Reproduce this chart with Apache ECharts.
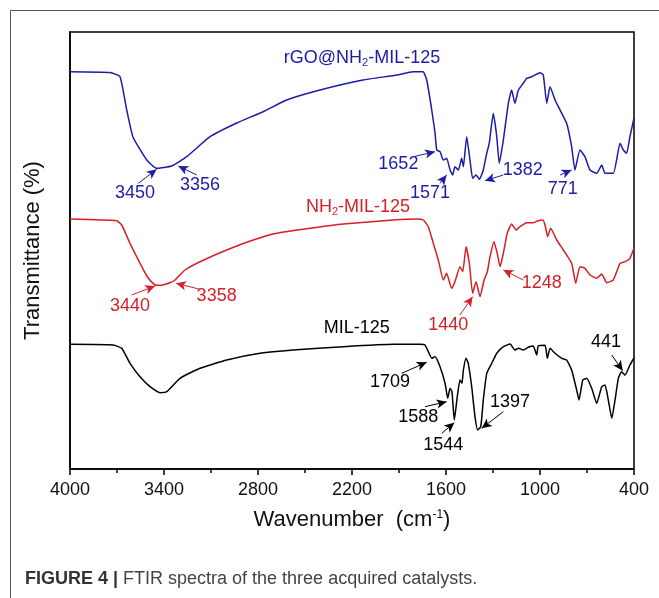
<!DOCTYPE html>
<html>
<head>
<meta charset="utf-8">
<script src="https://cdn.jsdelivr.net/npm/echarts@6/dist/echarts.min.js"></script>
<style>
  html, body { margin: 0; padding: 0; background: #fff; }
  #chart { width: 659px; height: 598px; }
</style>
</head>
<body>
<div id="chart"></div>
<script>
// FTIR spectra, offset vertically (arbitrary transmittance units): [wavenumber cm-1, T]
const rgoSpectrum = [
  [4000, 397.3], [3745, 396.5], [3681, 392.3], [3638, 359], [3598, 332], [3510, 309],
  [3447, 300.7], [3351, 303], [3255, 312.3], [3106, 332.3], [2936, 346], [2768, 357.3],
  [2617, 369], [2404, 379], [2130, 389], [1913, 394], [1811, 397.3], [1747, 397.3],
  [1723, 389], [1691, 359], [1670, 336], [1659, 319], [1638, 317.3], [1617, 309],
  [1596, 310.7], [1574, 299], [1557, 294], [1543, 302.3], [1521, 299], [1500, 310.7],
  [1489, 302.3], [1468, 332.3], [1447, 309], [1430, 290.7], [1408, 294], [1387, 289.7],
  [1362, 299], [1340, 315.7], [1324, 325.7], [1298, 355.7], [1276, 332.3], [1260, 305.7],
  [1234, 329], [1202, 365.7], [1181, 379], [1160, 365.7], [1138, 379], [1107, 385.7],
  [1085, 390.7], [1053, 392.3], [1032, 394], [1000, 396.3], [979, 394], [957, 365.7],
  [936, 382.3], [904, 369], [872, 359], [830, 345.7], [798, 322.3], [777, 299],
  [745, 319], [713, 312.3], [681, 299], [638, 295.7], [606, 304], [585, 295.7],
  [532, 295.7], [489, 325.7], [468, 319], [447, 315.7], [426, 332.3], [400, 351]
];
const nh2Spectrum = [
  [4000, 250], [3702, 248.3], [3670, 244], [3617, 225.7], [3553, 205.7], [3500, 190.7],
  [3457, 184], [3426, 183.7], [3362, 186.3], [3330, 189], [3266, 199], [3170, 207.3],
  [3000, 219], [2830, 229], [2681, 235.7], [2468, 240.7], [2255, 245], [1936, 249],
  [1787, 250], [1745, 249], [1713, 242.3], [1681, 225.7], [1649, 209], [1617, 189],
  [1596, 195.7], [1564, 180.7], [1543, 187.3], [1511, 202.3], [1493, 197.3], [1472, 222.3],
  [1451, 205.7], [1430, 175.7], [1408, 187.3], [1383, 172.3], [1357, 189], [1336, 197.3],
  [1319, 212.3], [1294, 227.3], [1273, 215.7], [1255, 202.3], [1234, 215.7], [1209, 235.7],
  [1181, 245], [1153, 239], [1128, 242.3], [1085, 246.3], [1043, 246.3], [1011, 248.3],
  [983, 249], [968, 244], [951, 232.3], [932, 240.7], [893, 229], [851, 219],
  [798, 205.7], [772, 185.7], [745, 202.3], [713, 200.7], [681, 194], [638, 190.7],
  [606, 195], [574, 186.3], [532, 189], [489, 205.7], [457, 207.3], [426, 210.7], [400, 221]
];
const milSpectrum = [
  [4000, 124.7], [3724, 124], [3670, 120.7], [3617, 105.7], [3553, 92.3], [3489, 82.3],
  [3426, 76.3], [3383, 77.3], [3298, 90.7], [3170, 100.7], [3000, 109], [2787, 115.7],
  [2575, 119], [2255, 122.3], [1936, 124.7], [1766, 124.7], [1734, 124], [1713, 117.3],
  [1691, 110.7], [1670, 112.3], [1638, 102.3], [1606, 85.7], [1589, 70.7], [1574, 80.7],
  [1562, 77.3], [1547, 49], [1528, 72.3], [1511, 89], [1498, 85.7], [1489, 99],
  [1472, 110.7], [1458, 105.7], [1436, 82.3], [1415, 52.3], [1398, 39], [1378, 42.3],
  [1362, 69], [1340, 95.7], [1308, 105.7], [1276, 115.7], [1234, 122.3], [1191, 125],
  [1160, 119], [1138, 120.7], [1107, 119], [1075, 121.7], [1043, 123], [1021, 114],
  [1011, 123], [968, 123.7], [953, 110.7], [936, 120.7], [904, 115.7], [861, 110.7],
  [830, 109], [798, 99], [766, 79], [751, 69], [727, 89], [702, 90.7],
  [670, 80.7], [638, 65.7], [606, 82.3], [585, 84], [564, 69], [542, 50.7],
  [521, 69], [500, 90.7], [479, 97.3], [457, 94], [426, 104], [400, 111]
];

// Curve names: [text, wavenumber, T]
const rgoName = ['rGO@NH{s|2}-MIL-125', 2136, 411];
const nh2Name = ['NH{s|2}-MIL-125', 2162, 262];
const milName = ['MIL-125', 2170, 140.7];

// Peak callouts: [label, textWn, textT, tailWn, tailT, tipWn, tipT]
const rgoPeaks = [
  ['3450', 3585, 275.7, 3564, 285.7, 3447, 299.7],
  ['3356', 3170, 284, 3191, 294, 3309, 303],
  ['1652', 1904, 304.7, 1809, 312.3, 1670, 317.3],
  ['1571', 1702, 276.3, 1638, 285.7, 1596, 294],
  ['1382', 1110, 299, 1234, 294, 1351, 288.3],
  ['771', 855, 279.7, 872, 294, 798, 299]
];
const nh2Peaks = [
  ['3440', 3617, 163, 3606, 174, 3457, 183],
  ['3358', 3064, 173.3, 3170, 179.7, 3323, 185.7],
  ['1440', 1585, 144, 1511, 154, 1430, 172.3],
  ['1248', 989, 185.7, 1107, 189, 1234, 199]
];
const milPeaks = [
  ['1709', 1957, 87.3, 1883, 95.7, 1723, 106.7],
  ['1588', 1777, 52.3, 1734, 62.3, 1596, 67.3],
  ['1544', 1617, 24, 1627, 35.7, 1547, 46.3],
  ['1397', 1191, 67.3, 1234, 57.3, 1372, 40.7],
  ['441', 579, 127.3, 542, 114, 472, 98.3]
];

const xTicks = { min: 400, max: 4000, interval: 600 };

const FONT = '"Liberation Sans", Arial, sans-serif';
const BLUE = '#1c1ca6';
const RED = '#d51f26';
const BLACK = '#000000';

function spectrumSeries(name, data, color) {
  return {
    name: name, type: 'line', data: data, showSymbol: false, symbol: 'none',
    smooth: 0.15, lineStyle: { color: color, width: 1.5 }, z: 3
  };
}

function calloutSeries(color, peaks, title) {
  const textData = peaks.map(p => [p[1], p[2], p[0]]);
  textData.push([title[1], title[2], title[0]]);
  return [
    {
      type: 'scatter', data: textData, symbolSize: 0, z: 5,
      itemStyle: { opacity: 1, color: color },
      label: {
        show: true, position: 'inside', color: color, fontSize: 18, fontFamily: FONT,
        formatter: p => p.data[2],
        rich: { s: { fontSize: 11, color: color, fontFamily: FONT, verticalAlign: 'bottom', padding: [10, 0, 0, 0] } }
      }
    },
    {
      type: 'line', data: [], z: 4,
      markLine: {
        silent: true, symbol: ['none', 'arrow'], symbolSize: [7, 10],
        lineStyle: { color: color, width: 1, type: 'solid', opacity: 1 },
        label: { show: false },
        data: peaks.map(p => [{ coord: [p[3], p[4]] }, { coord: [p[5], p[6]] }])
      }
    }
  ];
}

const chart = echarts.init(document.getElementById('chart'), null, { renderer: 'canvas' });

chart.setOption({
  animation: false,
  backgroundColor: '#ffffff',
  grid: { left: 70, top: 32, right: 25, bottom: 129, show: true, borderColor: '#000', borderWidth: 1.5 },
  xAxis: {
    type: 'value', inverse: true, min: xTicks.min, max: xTicks.max, interval: xTicks.interval,
    axisLine: { show: true, lineStyle: { color: '#000', width: 1.5 } },
    axisTick: { show: true, inside: false, length: 6, lineStyle: { color: '#000', width: 1.5 } },
    minorTick: { show: true, splitNumber: 2, length: 4, lineStyle: { color: '#000', width: 1.5 } },
    splitLine: { show: false },
    axisLabel: { color: '#111', fontSize: 18, fontFamily: FONT, margin: 12, formatter: v => String(v) },
    name: 'Wavenumber  (cm{sup|-1})',
    nameLocation: 'middle', nameGap: 40,
    nameTextStyle: {
      color: '#111', fontSize: 22, fontFamily: FONT,
      rich: { sup: { fontSize: 12, color: '#111', fontFamily: FONT, verticalAlign: 'top', padding: [0, 0, 10, 0] } }
    }
  },
  yAxis: {
    type: 'value', min: 0, max: 437,
    axisLine: { show: true, lineStyle: { color: '#000', width: 1.5 } },
    axisTick: { show: false }, axisLabel: { show: false }, splitLine: { show: false },
    name: 'Transmittance (%)', nameLocation: 'middle', nameGap: 26, nameRotate: 90,
    nameTextStyle: { color: '#111', fontSize: 22, fontFamily: FONT }
  },
  series: [
    spectrumSeries('rGO@NH2-MIL-125', rgoSpectrum, BLUE),
    spectrumSeries('NH2-MIL-125', nh2Spectrum, RED),
    spectrumSeries('MIL-125', milSpectrum, BLACK),
    ...calloutSeries(BLUE, rgoPeaks, rgoName),
    ...calloutSeries(RED, nh2Peaks, nh2Name),
    ...calloutSeries(BLACK, milPeaks, milName)
  ],
  graphic: [
    {
      type: 'rect', silent: true, z: -1,
      shape: { x: 10.5, y: 10.5, width: 700, height: 700 },
      style: { fill: 'none', stroke: '#555', lineWidth: 1 }
    },
    {
      type: 'text', left: 25, top: 570, silent: true,
      style: {
        text: '{b|FIGURE 4 |} FTIR spectra of the three acquired catalysts.',
        fontSize: 18, fontFamily: FONT, fill: '#444',
        rich: { b: { fontSize: 18, fontWeight: 'bold', fontFamily: FONT, fill: '#333', color: '#333' } }
      }
    }
  ]
});
</script>
</body>
</html>
